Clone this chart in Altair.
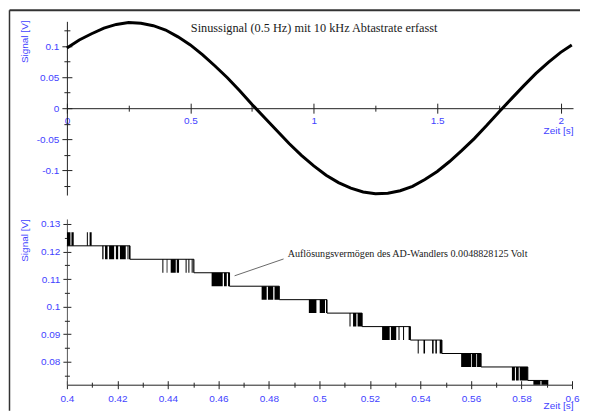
import altair as alt
import pandas as pd

# ---------------- top panel: sine signal sampled (readings from the picture) ----------------
t_top = [0.00, 0.05, 0.10, 0.15, 0.20, 0.25, 0.30, 0.35, 0.40, 0.45, 0.50, 0.55, 0.60, 0.65,
         0.70, 0.75, 0.80, 0.85, 0.90, 0.95, 1.00, 1.05, 1.10, 1.15, 1.20, 1.25, 1.30, 1.35,
         1.40, 1.45, 1.50, 1.55, 1.60, 1.65, 1.70, 1.75, 1.80, 1.85, 1.90, 1.95, 2.00, 2.045]
v_top = [0.097, 0.110, 0.120, 0.129, 0.135, 0.138, 0.137, 0.133, 0.126, 0.115, 0.102, 0.086,
         0.068, 0.049, 0.028, 0.006, -0.015, -0.036, -0.057, -0.076, -0.093, -0.108, -0.120,
         -0.129, -0.135, -0.138, -0.137, -0.133, -0.126, -0.115, -0.102, -0.086, -0.068, -0.049,
         -0.028, -0.006, 0.015, 0.036, 0.056, 0.074, 0.090, 0.102]

top_x_major = [0, 0.5, 1, 1.5, 2]
top_x_minor = [0.25, 0.75, 1.25, 1.75]
top_y_major = [-0.1, -0.05, 0, 0.05, 0.1]
top_y_minor = [-0.125, -0.075, -0.025, 0.025, 0.075, 0.125]
top_note = "Sinussignal (0.5 Hz) mit 10 kHz Abtastrate erfasst"
top_note_t = [0.502]
top_note_v = [0.129]

# ---------------- bottom panel: quantised levels (zoom 0.4 - 0.6 s) ----------------
step_t = [0.4000, 0.4250, 0.4503, 0.4644, 0.4841, 0.5030, 0.5169, 0.5360, 0.5485, 0.5640, 0.5825, 0.5906]
step_v = [0.12207, 0.11719, 0.11230, 0.10742, 0.10254, 0.09766, 0.09277, 0.08789, 0.08301,
          0.07813, 0.07324, 0.07324]

bar_start = [0.4000, 0.4018, 0.4079, 0.4090,
             0.4140, 0.4151, 0.4167, 0.4194, 0.4210, 0.4240, 0.4246,
             0.4378, 0.4395, 0.4411, 0.4435, 0.4470, 0.4481, 0.4494, 0.4501,
             0.4573, 0.4622, 0.4638,
             0.4771, 0.4796, 0.4822,
             0.4958, 0.5001, 0.5026,
             0.5119, 0.5133, 0.5151,
             0.5248, 0.5283, 0.5313, 0.5331, 0.5353,
             0.5389, 0.5412, 0.5446, 0.5459, 0.5476,
             0.5561, 0.5604, 0.5624,
             0.5762, 0.5778, 0.5793,
             0.5847, 0.5879]
bar_end = [0.4014, 0.4027, 0.4083, 0.4098,
           0.4145, 0.4161, 0.4187, 0.4203, 0.4233, 0.4244, 0.4250,
           0.4382, 0.4398, 0.4431, 0.4444, 0.4474, 0.4485, 0.4498, 0.4503,
           0.4617, 0.4633, 0.4644,
           0.4791, 0.4817, 0.4841,
           0.4988, 0.5022, 0.5030,
           0.5123, 0.5146, 0.5169,
           0.5278, 0.5304, 0.5317, 0.5335, 0.5360,
           0.5393, 0.5418, 0.5452, 0.5465, 0.5485,
           0.5601, 0.5621, 0.5640,
           0.5774, 0.5789, 0.5825,
           0.5875, 0.5906]
bar_low = ([0.12207] * 4 + [0.11719] * 7 + [0.11230] * 8 + [0.10742] * 3 + [0.10254] * 3 +
           [0.09766] * 3 + [0.09277] * 3 + [0.08789] * 5 + [0.08301] * 5 + [0.07813] * 3 +
           [0.07324] * 3 + [0.06836] * 2)
bar_high = ([0.12695] * 4 + [0.12207] * 7 + [0.11719] * 8 + [0.11230] * 3 + [0.10742] * 3 +
            [0.10254] * 3 + [0.09766] * 3 + [0.09277] * 5 + [0.08789] * 5 + [0.08301] * 3 +
            [0.07813] * 3 + [0.07324] * 2)

bot_x_major = [0.4, 0.42, 0.44, 0.46, 0.48, 0.5, 0.52, 0.54, 0.56, 0.58, 0.6]
bot_x_minor = [0.41, 0.43, 0.45, 0.47, 0.49, 0.51, 0.53, 0.55, 0.57, 0.59]
bot_y_major = [0.08, 0.09, 0.1, 0.11, 0.12, 0.13]
bot_y_minor = [0.075, 0.085, 0.095, 0.105, 0.115, 0.125]
bot_note = "Auflösungsvermögen des AD-Wandlers 0.0048828125 Volt"
bot_note_t = [0.4874]
bot_note_v = [0.1191]
lead_t = [0.4664, 0.4858]
lead_v = [0.1112, 0.1173]

# ---------------- styling ----------------
BLUE = "#4242ff"
AX = "#222222"
SANS = "Liberation Sans"
SERIF = "Liberation Serif"

W1, H1 = 507, 174
W2, H2 = 506, 166

df_top = pd.DataFrame({"t": t_top, "v": v_top})
df_step = pd.DataFrame({"t": step_t, "v": step_v})
df_bars = pd.DataFrame({"t0": bar_start, "t1": bar_end, "lo": bar_low, "hi": bar_high})
one = pd.DataFrame({"a": [0]})


def x_axis(xvals, xoff, tick, lpad, title_y):
    return alt.Axis(orient="bottom", values=xvals, offset=xoff, tickSize=tick, tickWidth=1,
                    tickColor=AX, domainColor=AX, domainWidth=1, grid=False,
                    labelExpr="'' + datum.value", labelColor=BLUE, labelFont=SANS,
                    labelFontSize=10, labelPadding=lpad, labelFlush=False, labelOverlap=False,
                    title="Zeit [s]", titleColor=BLUE, titleFont=SANS, titleFontSize=10,
                    titleFontWeight="normal", titleX=492, titleY=title_y, titleAlign="center",
                    titleBaseline="middle", titleAngle=0)


def y_axis(yvals, tick, dom_color, title_y):
    return alt.Axis(orient="left", values=yvals, tickSize=tick, tickWidth=1, tickColor=AX,
                    domainColor=dom_color, domainWidth=1, grid=False,
                    labelExpr="'' + datum.value", labelColor=BLUE, labelFont=SANS,
                    labelFontSize=10, labelPadding=3, labelFlush=False, labelOverlap=False,
                    title="Signal [V]", titleColor=BLUE, titleFont=SANS, titleFontSize=10,
                    titleFontWeight="normal", titleX=-42, titleY=title_y, titleAlign="center",
                    titleBaseline="middle", titleAngle=270)


def tick_axis(orient, vals, off, size):
    return alt.Axis(orient=orient, values=vals, offset=off, tickSize=size, tickWidth=1,
                    tickColor=AX, labels=False, domain=False, grid=False, title="")


def tick_layer(df, xf, yf, xs, ys, xo, yo, xvals, yvals, xoff, yoff, size):
    return alt.Chart(df).mark_point(opacity=0).encode(
        x=alt.X(xf, scale=xs, axis=tick_axis(xo, xvals, xoff, size)),
        y=alt.Y(yf, scale=ys, axis=tick_axis(yo, yvals, yoff, size)),
    )


# ---------------- top panel ----------------
xs1 = alt.Scale(domain=[0, 2.05], nice=False, zero=False)
ys1 = alt.Scale(domain=[-0.14, 0.14], nice=False, zero=False)

sine = alt.Chart(df_top).mark_line(color="black", strokeWidth=3).encode(
    x=alt.X("t:Q", scale=xs1, axis=x_axis(top_x_major, -H1 / 2, 5, 2, 22)),
    y=alt.Y("v:Q", scale=ys1, axis=y_axis(top_y_major, 5, AX, 20)),
)
t1a = tick_layer(df_top, "t:Q", "v:Q", xs1, ys1, "top", "right", top_x_major, top_y_major,
                 -H1 / 2, -W1, 5)
t1b = tick_layer(df_top, "t:Q", "v:Q", xs1, ys1, "bottom", "left", top_x_minor, top_y_minor,
                 -H1 / 2, 0, 3)
t1c = tick_layer(df_top, "t:Q", "v:Q", xs1, ys1, "top", "right", top_x_minor, top_y_minor,
                 -H1 / 2, -W1, 3)
note1 = alt.Chart(pd.DataFrame({"t": top_note_t, "v": top_note_v, "s": [top_note]})).mark_text(
    align="left", baseline="middle", font=SERIF, fontSize=12.3, color="#1a1a1a"
).encode(x=alt.X("t:Q", scale=xs1, axis=None), y=alt.Y("v:Q", scale=ys1, axis=None), text="s:N")

frame_top = alt.Chart(one).mark_rule(color="#333333", strokeWidth=2).encode(
    x=alt.value(-57.5), x2=alt.value(514), y=alt.value(-11))
frame_left = alt.Chart(one).mark_rule(color="#333333", strokeWidth=1.5).encode(
    x=alt.value(-57.5), y=alt.value(-11), y2=alt.value(390))

top = alt.layer(sine, t1a, t1b, t1c, note1, frame_top, frame_left).resolve_axis(
    x="independent", y="independent").properties(width=W1, height=H1)

# ---------------- bottom panel ----------------
xs2 = alt.Scale(domain=[0.4, 0.6], nice=False, zero=False)
ys2 = alt.Scale(domain=[0.0717, 0.1318], nice=False, zero=False)

steps = alt.Chart(df_step).mark_line(color="black", strokeWidth=1, interpolate="step-after").encode(
    x=alt.X("t:Q", scale=xs2, axis=x_axis(bot_x_major, 0, 4, 5, 21)),
    y=alt.Y("v:Q", scale=ys2, axis=y_axis(bot_y_major, 4, "#555555", 21)),
)
bars = alt.Chart(df_bars).mark_rect(color="black", clip=True).encode(
    x=alt.X("t0:Q", scale=xs2, axis=None), x2="t1:Q",
    y=alt.Y("lo:Q", scale=ys2, axis=None), y2="hi:Q",
)
t2a = tick_layer(df_step, "t:Q", "v:Q", xs2, ys2, "top", "right", bot_x_major, bot_y_major,
                 -H2, -W2, 4)
t2b = tick_layer(df_step, "t:Q", "v:Q", xs2, ys2, "bottom", "left", bot_x_minor, bot_y_minor,
                 0, 0, 2.5)
t2c = tick_layer(df_step, "t:Q", "v:Q", xs2, ys2, "top", "right", bot_x_minor, bot_y_minor,
                 -H2, -W2, 2.5)
lead = alt.Chart(pd.DataFrame({"t": [lead_t[0]], "v": [lead_v[0]],
                               "t2": [lead_t[1]], "v2": [lead_v[1]]})).mark_rule(
    color="#444444", strokeWidth=0.8
).encode(x=alt.X("t:Q", scale=xs2, axis=None), y=alt.Y("v:Q", scale=ys2, axis=None),
         x2="t2:Q", y2="v2:Q")
note2 = alt.Chart(pd.DataFrame({"t": bot_note_t, "v": bot_note_v, "s": [bot_note]})).mark_text(
    align="left", baseline="middle", font=SERIF, fontSize=10.1, color="#1a1a1a"
).encode(x=alt.X("t:Q", scale=xs2, axis=None), y=alt.Y("v:Q", scale=ys2, axis=None), text="s:N")

bottom = alt.layer(steps, bars, t2a, t2b, t2c, lead, note2).resolve_axis(
    x="independent", y="independent").properties(width=W2, height=H2)

chart = alt.vconcat(top, bottom, spacing=24, bounds="flush").properties(
    padding={"left": 0, "top": 1, "right": 0, "bottom": 0},
    background="white",
).configure_view(strokeWidth=0)

chart.save("out.html", embed_options={"renderer": "svg", "actions": False})
